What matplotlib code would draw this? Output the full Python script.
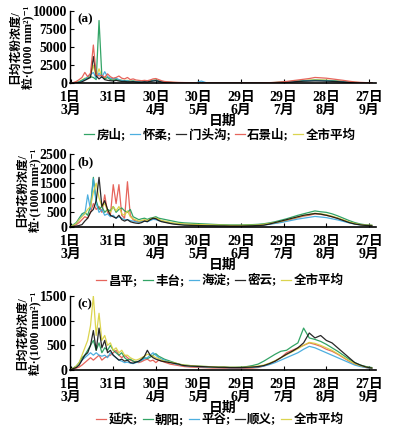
import matplotlib
matplotlib.use('Agg')
from matplotlib import pyplot as plt

plt.rcParams['font.family'] = ['Liberation Serif', 'Noto Sans CJK SC', 'DejaVu Sans']
plt.rcParams['font.weight'] = 'bold'

# day index counted from 1 March; dense in spring, coarser afterwards
days = list(range(0, 80, 2)) + list(range(80, 216, 4))

tick_days = [0, 30, 60, 90, 120, 150, 180, 210]
tick_labels = ['1日\n3月', '31日', '30日\n4月', '30日\n5月', '29日\n6月',
               '29日\n7月', '28日\n8月', '27日\n9月']

# panel (a)
a_names = ['房山', '怀柔', '门头沟', '石景山', '全市平均']
a_fangshan = [20, 50, 100, 200, 400, 600, 700, 900, 800, 500, 8700, 900, 600, 800, 500, 400, 500, 400, 300, 350,
              300, 250, 280, 220, 180, 200, 240, 200, 300, 400, 420, 300, 220, 160, 130, 110, 90, 80, 70, 60,
              60, 50, 45, 40, 40, 35, 30, 30, 30, 25, 25, 30, 30, 40, 50, 70, 100, 140, 180, 250,
              300, 350, 380, 420, 400, 380, 330, 280, 220, 150, 100, 70, 40, 30]
a_huairou = [20, 40, 80, 150, 300, 500, 900, 1200, 1500, 700, 1400, 800, 1600, 900, 700, 600, 700, 500, 400, 300,
             350, 250, 300, 220, 200, 180, 220, 200, 250, 350, 380, 280, 200, 150, 120, 100, 80, 70, 60, 50,
             50, 45, 40, 300, 35, 30, 30, 30, 25, 25, 25, 30, 30, 40, 50, 60, 90, 120, 160, 220,
             280, 320, 350, 380, 360, 330, 300, 250, 200, 140, 90, 60, 40, 30]
a_mentougou = [10, 30, 60, 100, 200, 400, 600, 800, 3700, 1000, 600, 900, 500, 400, 350, 300, 400, 300, 250, 250,
               200, 200, 220, 180, 150, 160, 200, 180, 250, 300, 350, 250, 180, 130, 100, 80, 70, 60, 50, 40,
               40, 35, 30, 30, 30, 25, 25, 20, 20, 20, 20, 25, 25, 30, 40, 50, 70, 100, 140, 180,
               230, 280, 300, 320, 310, 290, 260, 220, 170, 120, 80, 50, 30, 20]
a_shijingshan = [50, 100, 250, 500, 800, 1500, 900, 1400, 5300, 1200, 1000, 1100, 800, 1300, 900, 700, 800, 1000, 700, 600,
                 800, 500, 600, 450, 400, 350, 400, 350, 450, 600, 650, 500, 350, 250, 200, 180, 150, 130, 110, 100,
                 90, 80, 70, 60, 55, 50, 45, 40, 40, 35, 35, 40, 40, 50, 60, 80, 120, 180, 250, 350,
                 450, 550, 650, 800, 750, 700, 600, 500, 400, 280, 180, 120, 80, 60]
a_city = [30, 60, 120, 250, 450, 700, 800, 1000, 2500, 800, 2000, 900, 800, 900, 600, 500, 550, 500, 400, 380,
          400, 300, 340, 280, 240, 230, 260, 230, 300, 380, 420, 320, 230, 170, 140, 120, 100, 90, 80, 70,
          65, 55, 50, 45, 45, 40, 35, 32, 30, 28, 28, 32, 32, 40, 50, 65, 95, 140, 190, 260,
          320, 380, 430, 480, 460, 430, 380, 320, 250, 180, 120, 80, 50, 40]

# panel (b)
b_names = ['昌平', '丰台', '海淀', '密云', '全市平均']
b_changping = [20, 40, 80, 150, 250, 350, 300, 500, 800, 600, 700, 500, 1100, 500, 400, 1450, 800, 1450, 400, 300,
               1550, 400, 250, 200, 180, 200, 220, 200, 250, 280, 300, 250, 200, 180, 150, 130, 120, 110, 100, 90,
               90, 80, 70, 65, 60, 55, 50, 50, 45, 45, 45, 50, 50, 60, 80, 100, 130, 170, 220, 270,
               320, 370, 400, 450, 430, 400, 350, 300, 230, 160, 110, 80, 60, 50]
b_fengtai = [30, 80, 150, 300, 450, 500, 400, 700, 1700, 900, 600, 700, 500, 600, 550, 700, 500, 600, 650, 550,
             500, 600, 350, 300, 250, 280, 300, 260, 300, 320, 350, 300, 280, 260, 240, 220, 200, 180, 160, 150,
             140, 130, 120, 110, 100, 90, 80, 75, 70, 70, 70, 75, 80, 90, 110, 140, 180, 230, 280, 340,
             400, 450, 500, 550, 520, 500, 450, 380, 300, 220, 150, 100, 70, 60]
b_haidian = [20, 60, 120, 250, 400, 450, 1100, 600, 1650, 800, 500, 600, 400, 450, 350, 400, 300, 350, 300, 250,
             250, 220, 200, 180, 160, 180, 200, 180, 220, 260, 250, 220, 200, 180, 160, 140, 120, 110, 100, 90,
             80, 70, 65, 60, 55, 50, 45, 45, 40, 40, 40, 45, 45, 55, 70, 90, 120, 150, 190, 230,
             270, 300, 330, 360, 340, 320, 280, 240, 190, 140, 100, 70, 50, 40]
b_miyun = [10, 20, 30, 50, 80, 200, 300, 500, 600, 900, 1700, 700, 900, 600, 400, 350, 300, 400, 250, 200,
           250, 180, 150, 130, 120, 150, 200, 180, 250, 300, 280, 220, 180, 160, 140, 120, 100, 90, 80, 70,
           60, 55, 50, 45, 40, 40, 35, 35, 30, 30, 30, 35, 40, 50, 60, 100, 150, 200, 250, 300,
           350, 400, 430, 460, 440, 400, 350, 290, 220, 150, 100, 70, 50, 40]
b_city = [20, 60, 120, 250, 350, 450, 600, 700, 1200, 1500, 1000, 700, 800, 550, 500, 700, 550, 700, 450, 400,
          550, 350, 280, 240, 200, 220, 250, 220, 260, 300, 300, 260, 220, 200, 180, 160, 140, 130, 120, 110,
          100, 90, 85, 80, 75, 70, 65, 60, 55, 55, 55, 60, 60, 70, 90, 120, 150, 190, 240, 290,
          340, 390, 430, 470, 450, 420, 370, 310, 240, 170, 120, 80, 60, 50]

# panel (c)
c_names = ['延庆', '朝阳', '平谷', '顺义', '全市平均']
c_yanqing = [10, 20, 40, 60, 100, 150, 200, 250, 200, 250, 300, 200, 250, 280, 300, 350, 400, 300, 250, 300,
             250, 200, 180, 160, 150, 170, 200, 220, 180, 200, 150, 200, 180, 160, 140, 120, 110, 100, 90, 80,
             70, 60, 55, 50, 45, 40, 40, 35, 35, 30, 30, 35, 40, 50, 80, 120, 180, 250, 350, 400,
             450, 500, 550, 520, 480, 420, 380, 320, 250, 180, 120, 80, 50, 30]
c_chaoyang = [20, 40, 80, 150, 250, 300, 400, 500, 600, 400, 550, 350, 450, 400, 500, 400, 350, 300, 350, 250,
              200, 220, 180, 160, 170, 200, 250, 230, 260, 300, 330, 280, 250, 220, 200, 180, 160, 140, 120, 110,
              100, 90, 80, 75, 70, 65, 60, 60, 55, 55, 60, 70, 90, 120, 180, 250, 320, 380, 400, 480,
              550, 850, 650, 620, 580, 520, 450, 380, 300, 220, 150, 100, 70, 50]
c_pinggu = [20, 40, 70, 120, 200, 250, 300, 350, 300, 350, 300, 280, 300, 250, 350, 300, 250, 200, 180, 150,
            160, 140, 130, 150, 170, 200, 230, 250, 300, 350, 300, 250, 220, 200, 180, 160, 140, 120, 110, 100,
            90, 80, 70, 65, 60, 55, 50, 50, 45, 45, 45, 50, 55, 60, 80, 110, 150, 200, 250, 300,
            350, 420, 480, 450, 400, 350, 300, 250, 200, 150, 100, 70, 50, 30]
c_shunyi = [10, 30, 50, 100, 200, 300, 350, 500, 800, 400, 850, 450, 600, 350, 400, 300, 250, 200, 220, 180,
            200, 150, 140, 160, 180, 220, 280, 400, 300, 250, 220, 200, 180, 170, 160, 150, 140, 130, 120, 100,
            90, 80, 75, 70, 65, 60, 55, 55, 50, 50, 50, 55, 60, 70, 90, 130, 180, 250, 320, 380,
            450, 550, 750, 650, 700, 600, 550, 450, 350, 250, 150, 100, 60, 40]
c_city = [20, 40, 80, 150, 300, 450, 600, 900, 1500, 700, 1150, 600, 700, 500, 550, 400, 450, 350, 400, 300,
          300, 250, 220, 200, 220, 250, 280, 320, 300, 280, 250, 230, 200, 180, 170, 160, 150, 140, 120, 110,
          100, 90, 80, 75, 70, 65, 60, 60, 55, 55, 55, 60, 70, 80, 100, 140, 190, 250, 310, 370,
          430, 500, 560, 540, 500, 450, 400, 330, 260, 190, 130, 90, 60, 40]

colors_a = ['#1c9a55', '#3aa6dc', '#111111', '#e4544a', '#d8d03c']
colors_bc = ['#e4544a', '#1c9a55', '#3aa6dc', '#111111', '#d8d03c']

panels = [
    ('(a)', a_names, [a_fangshan, a_huairou, a_mentougou, a_shijingshan, a_city], colors_a,
     [0, 2500, 5000, 7500, 10000], [0.177, 0.806, 0.775, 0.168], -0.72),
    ('(b)', b_names, [b_changping, b_fengtai, b_haidian, b_miyun, b_city], colors_bc,
     [0, 500, 1000, 1500, 2000, 2500], [0.177, 0.471, 0.775, 0.170], -0.74),
    ('(c)', c_names, [c_yanqing, c_chaoyang, c_pinggu, c_shunyi, c_city], colors_bc,
     [0, 500, 1000, 1500], [0.177, 0.1375, 0.775, 0.1725], -0.67),
]

fig = plt.figure(figsize=(3.95, 4.29), dpi=100)

for tag, names, series, colors, yticks, pos, leg_y in panels:
    ax = fig.add_axes(pos)
    draw_order = [4, 0, 1, 2, 3] if tag == '(a)' else [0, 1, 2, 4, 3]
    lines = {}
    for i in draw_order:
        ln, = ax.plot(days, series[i], color=colors[i], lw=0.9, alpha=0.9)
        lines[i] = ln
    ax.set_xlim(-0.5, 215)
    ax.set_ylim(0, yticks[-1])
    ax.set_yticks(yticks)
    ax.set_xticks(tick_days)
    ax.set_xticklabels(tick_labels, linespacing=1.0)
    ax.tick_params(direction='in', length=3, width=0.8, labelsize=10)
    ax.tick_params(axis='x', pad=5.5)
    ax.tick_params(axis='y', pad=2)
    ax.spines['top'].set_visible(False)
    ax.spines['right'].set_visible(False)
    ax.spines['left'].set_linewidth(1.0)
    ax.spines['bottom'].set_linewidth(1.2)
    ax.text(0.025, 0.97, tag, transform=ax.transAxes, fontsize=9.5, fontweight='bold',
            ha='left', va='top')
    ax.set_xlabel('日期', fontsize=10, fontweight='bold', labelpad=-1.5)
    ax.set_ylabel('日均花粉浓度/\n粒·(1000 mm²)⁻¹', fontsize=8.5, fontweight='bold',
                  linespacing=1.0, labelpad=-1)
    labels = [n + ';' for n in names[:-1]] + [names[-1]]
    ax.legend([lines[i] for i in range(5)], labels, loc='center',
              bbox_to_anchor=(0.49, leg_y), ncol=5, frameon=False,
              handlelength=0.8, handletextpad=0.2, columnspacing=0.35,
              prop={'weight': 'bold', 'size': 9})

fig.savefig('out.png', dpi=100)
